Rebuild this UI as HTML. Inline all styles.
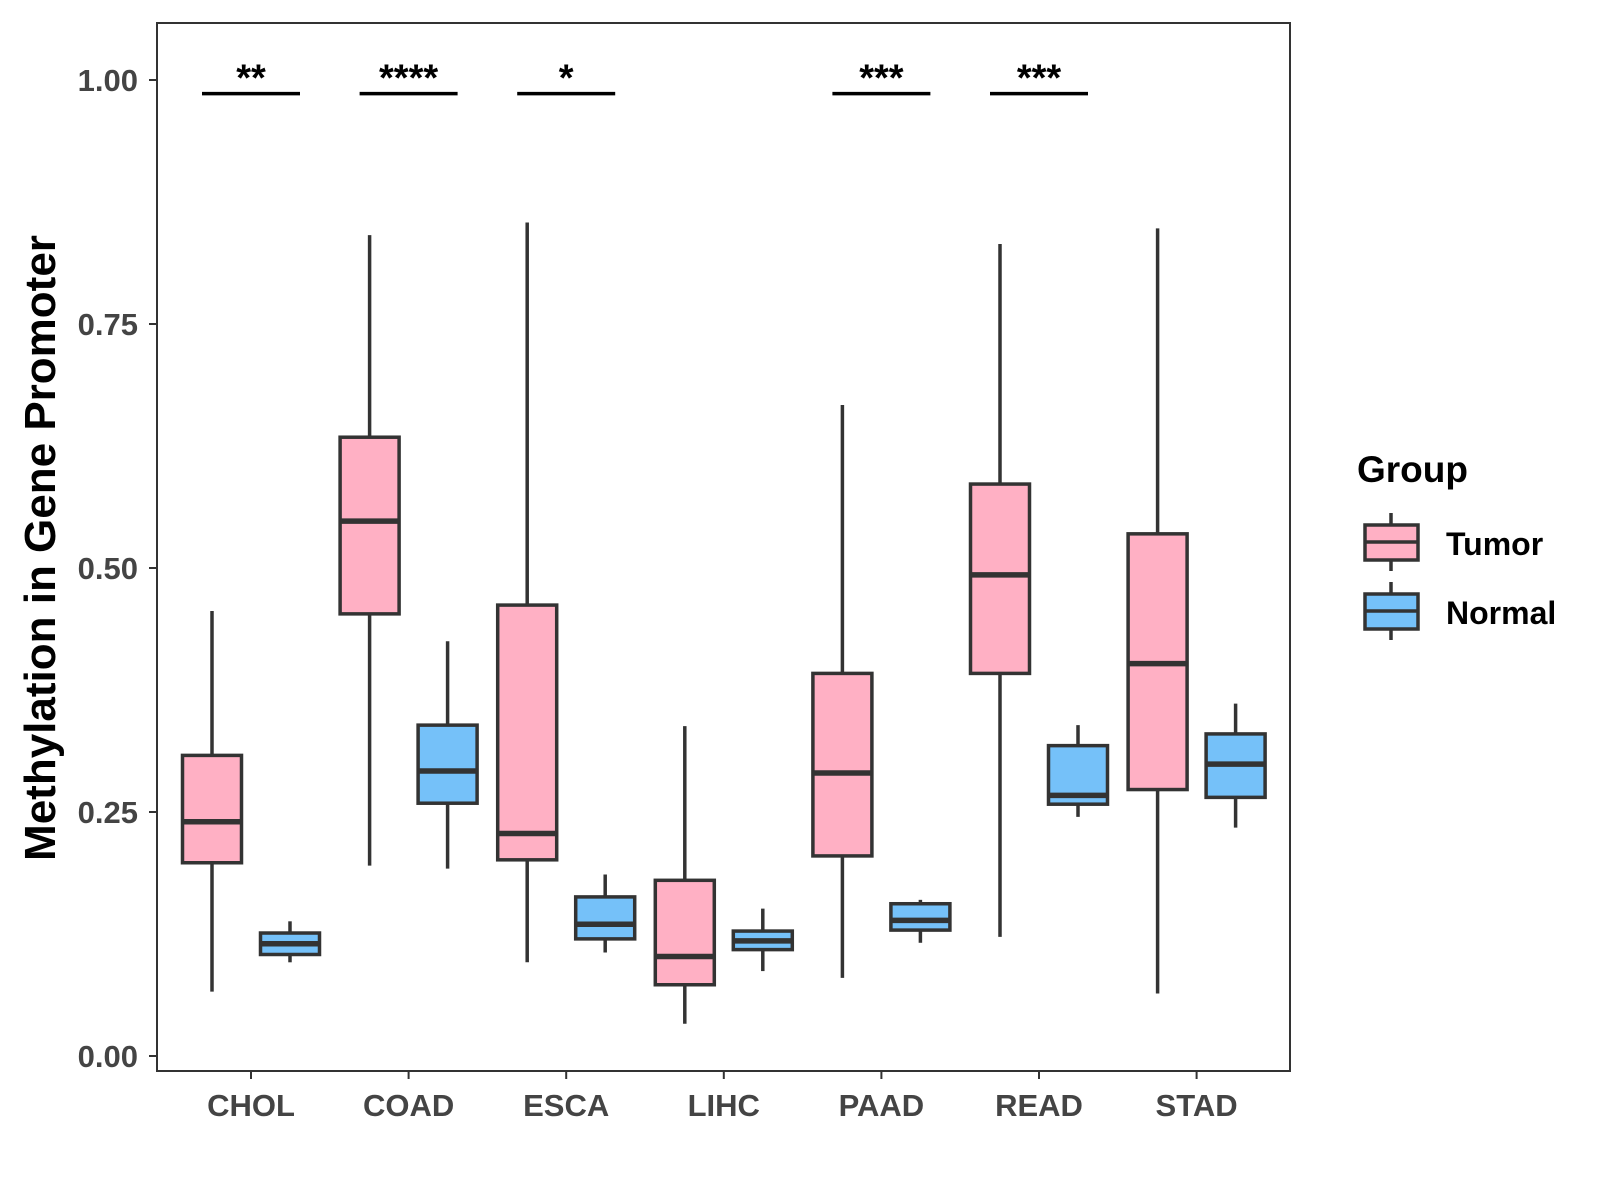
<!DOCTYPE html>
<html><head><meta charset="utf-8"><style>
html,body{margin:0;padding:0;background:#fff;}
svg{display:block;font-family:"Liberation Sans",Arial,sans-serif;}
</style></head><body>
<svg id="chart" width="1600" height="1200" viewBox="0 0 1600 1200">
<rect x="0" y="0" width="1600" height="1200" fill="#fff"/>
<g id="plot"></g>
<rect x="157" y="23" width="1133" height="1048" fill="none" stroke="#333" stroke-width="2"/>
<g id="axes"></g>
<text x="0" y="0" transform="translate(55,548) rotate(-90)" text-anchor="middle" font-size="44" font-weight="bold" fill="#000">Methylation in Gene Promoter</text>
<g>
<text x="1357" y="482" font-size="37" font-weight="bold">Group</text>
<g>
<line x1="1391" y1="513" x2="1391" y2="571" stroke="#333" stroke-width="3.5"/>
<rect x="1365" y="525" width="53" height="35" fill="#FFB0C4" stroke="#333" stroke-width="3.5"/>
<line x1="1365" y1="542" x2="1418" y2="542" stroke="#333" stroke-width="3.5"/>
<text x="1446" y="555" font-size="32" font-weight="bold">Tumor</text>
</g>
<g>
<line x1="1391" y1="582" x2="1391" y2="640" stroke="#333" stroke-width="3.5"/>
<rect x="1365" y="594" width="53" height="35" fill="#75C1F9" stroke="#333" stroke-width="3.5"/>
<line x1="1365" y1="611" x2="1418" y2="611" stroke="#333" stroke-width="3.5"/>
<text x="1446" y="624" font-size="32" font-weight="bold">Normal</text>
</g>
</g>
</svg>
<script>
const categories = ["CHOL","COAD","ESCA","LIHC","PAAD","READ","STAD"];
// [lowWhisker, Q1, median, Q3, highWhisker]
const tumorStats = [
 [0.066,0.198,0.240,0.308,0.456],
 [0.195,0.453,0.548,0.634,0.841],
 [0.096,0.201,0.228,0.462,0.854],
 [0.033,0.073,0.102,0.180,0.338],
 [0.080,0.205,0.290,0.392,0.667],
 [0.122,0.392,0.493,0.586,0.832],
 [0.064,0.273,0.402,0.535,0.848]
];
const normalStats = [
 [0.096,0.104,0.115,0.126,0.138],
 [0.192,0.259,0.292,0.339,0.425],
 [0.106,0.120,0.135,0.163,0.186],
 [0.087,0.109,0.118,0.128,0.151],
 [0.116,0.129,0.139,0.156,0.160],
 [0.245,0.258,0.267,0.318,0.339],
 [0.234,0.265,0.299,0.330,0.361]
];
const signifLabels = ["**","****","*","","***","***",""];
const signifLevel = 0.986;
const yTicks = [0,0.25,0.5,0.75,1.0];
const yTickLabels = ["0.00","0.25","0.50","0.75","1.00"];

const NS="http://www.w3.org/2000/svg";
const y = v => 1056 - v*976;
const x = i => 251 + i*157.6;
const plot = document.getElementById('plot');
const axes = document.getElementById('axes');
function mk(tag, attrs, parent){
  const e=document.createElementNS(NS,tag);
  for(const k in attrs) e.setAttribute(k,attrs[k]);
  parent.appendChild(e); return e;
}
function box(cx, s, fill, name){
  const g=mk('g',{},plot);
  
  
  const w=59;
  mk('line',{x1:cx,x2:cx,y1:y(s[4]),y2:y(s[0]),stroke:'#333','stroke-width':3.5},g);
  mk('rect',{x:cx-w/2,y:y(s[3]),width:w,height:y(s[1])-y(s[3]),fill:fill,stroke:'#333','stroke-width':3.5},g);
  mk('line',{x1:cx-w/2,x2:cx+w/2,y1:y(s[2]),y2:y(s[2]),stroke:'#333','stroke-width':5.5},g);
}
categories.forEach((c,i)=>{
  box(x(i)-39, tumorStats[i], '#FFB0C4', 'box-tumor-'+c.toLowerCase());
  box(x(i)+39, normalStats[i], '#75C1F9', 'box-normal-'+c.toLowerCase());
  if(signifLabels[i]){
    const g=mk('g',{},plot);
    
    
    mk('line',{x1:x(i)-49,x2:x(i)+49,y1:y(signifLevel),y2:y(signifLevel),stroke:'#000','stroke-width':3.5},g);
    const t=mk('text',{x:x(i),y:y(signifLevel)-3,'text-anchor':'middle','font-size':38,'font-weight':'bold'},g);
    t.textContent=signifLabels[i];
  }
  mk('line',{x1:x(i),x2:x(i),y1:1071,y2:1079,stroke:'#333','stroke-width':2},axes);
  const t=mk('text',{x:x(i),y:1116,'text-anchor':'middle','font-size':31,'font-weight':'bold',fill:'#444'},axes);
  
  
  t.textContent=c;
});
yTicks.forEach((v,i)=>{
  mk('line',{x1:149,x2:157,y1:y(v),y2:y(v),stroke:'#333','stroke-width':2},axes);
  const t=mk('text',{x:138,y:y(v)+11,'text-anchor':'end','font-size':31,'font-weight':'bold',fill:'#444'},axes);
  
  
  t.textContent=yTickLabels[i];
});
</script>
</body></html>
